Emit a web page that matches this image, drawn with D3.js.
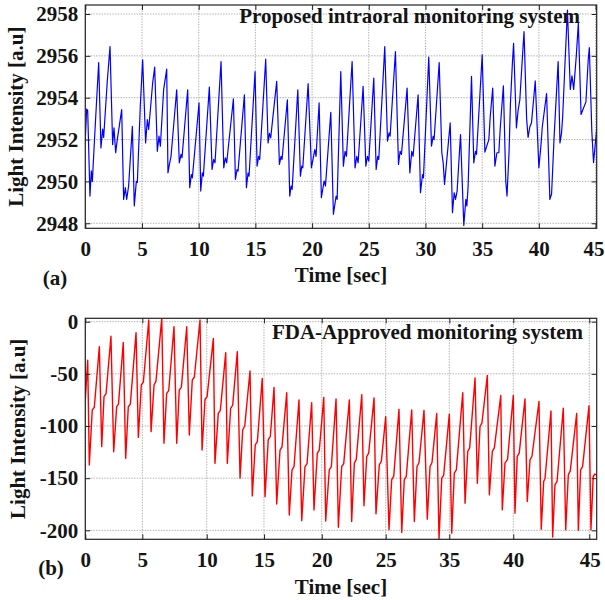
<!DOCTYPE html>
<html><head><meta charset="utf-8">
<script src="https://cdn.jsdelivr.net/npm/d3@7"></script>
<style>
body{margin:0;background:#fff}
text{font-family:"Liberation Serif","Times New Roman",serif;font-weight:bold;font-size:21px;fill:#141414}
</style>
</head><body><svg id="c" width="605" height="600"></svg>
<script>
// ---------- data ----------
const topTitle = "Proposed intraoral monitoring system";
const botTitle = "FDA-Approved monitoring system";
const xLabel = "Time [sec]";
const yLabel = "Light Intensity [a.u]";
const panelLetters = ["(a)", "(b)"];

const topXTicks = [0,5,10,15,20,25,30,35,40,45];
const topYTicks = [2948,2950,2952,2954,2956,2958];
const botXTicks = [0,5,10,15,20,25,35,40,45];
const botYTicks = [-200,-150,-100,-50,0];

const topTime = [0.00,0.12,0.21,0.41,0.53,0.62,0.85,1.18,1.38,1.53,1.62,1.94,2.18,2.41,2.53,2.68,2.82,3.21,3.38,3.53,3.65,3.82,4.15,4.32,4.50,4.59,4.85,5.06,5.32,5.47,5.59,5.94,6.12,6.35,6.50,6.62,6.91,7.18,7.29,7.41,7.56,8.06,8.29,8.44,8.53,9.03,9.21,9.35,9.44,10.03,10.18,10.32,10.41,10.94,11.18,11.32,11.44,11.97,12.21,12.35,12.47,13.06,13.24,13.38,13.47,14.03,14.21,14.35,14.44,14.97,15.15,15.29,15.38,15.91,16.12,16.24,16.35,16.88,17.12,17.26,17.35,17.82,18.03,18.15,18.24,18.74,18.97,19.09,19.18,19.65,19.94,20.24,20.35,20.62,20.82,21.06,21.18,21.65,21.88,22.12,22.21,22.53,22.76,22.91,23.03,23.53,23.79,23.94,24.06,24.50,24.74,24.88,25.00,25.44,25.65,25.79,25.88,26.41,26.65,26.79,26.88,27.35,27.62,27.76,27.88,28.38,28.62,28.79,28.91,29.35,29.56,29.74,29.82,30.29,30.53,30.68,30.76,31.21,31.44,31.56,31.68,32.18,32.38,32.53,32.65,32.79,33.09,33.38,33.56,33.65,33.76,34.06,34.26,34.41,34.50,35.00,35.24,35.41,35.59,35.71,35.93,36.12,36.30,36.47,36.60,36.87,37.08,37.19,37.37,37.49,37.66,37.77,38.02,38.17,38.32,38.50,38.69,38.92,39.05,39.20,39.35,39.68,40.00,40.18,40.30,40.68,40.97,41.12,41.35,41.70,41.86,42.00,42.10,42.30,42.52,42.77,42.92,43.07,43.30,43.48,43.72,43.93,44.15,44.35,44.45,44.67,44.82,45.10];
const topValue = [2952.0,2953.46,2953.4,2949.3,2950.5,2950.0,2952.4,2955.68,2951.6,2952.5,2952.1,2954.8,2956.44,2951.76,2952.56,2951.37,2952.0,2953.43,2949.14,2949.7,2949.14,2949.78,2952.63,2948.83,2950.0,2949.95,2953.6,2955.81,2951.84,2952.95,2952.48,2954.7,2955.46,2951.44,2952.16,2951.68,2954.4,2955.37,2950.41,2950.8,2951.2,2954.38,2950.89,2951.29,2951.13,2954.38,2949.7,2950.33,2950.17,2953.75,2949.54,2950.41,2950.25,2954.51,2950.57,2951.05,2950.89,2955.73,2950.65,2951.13,2950.89,2953.94,2950.1,2950.57,2950.49,2954.14,2949.7,2950.4,2950.25,2955.25,2950.73,2951.2,2951.05,2955.84,2951.84,2952.3,2952.08,2954.78,2950.81,2951.2,2951.05,2953.9,2949.3,2949.78,2949.62,2954.38,2950.25,2950.73,2950.65,2954.67,2950.65,2951.52,2951.2,2953.75,2949.22,2950.02,2949.78,2953.3,2948.43,2949.3,2949.14,2955.25,2950.73,2951.44,2951.2,2955.73,2950.65,2951.2,2950.89,2954.54,2950.73,2951.2,2950.97,2954.94,2950.57,2951.2,2951.05,2956.44,2951.92,2952.32,2952.16,2956.2,2950.81,2951.44,2951.29,2954.46,2950.41,2951.44,2951.2,2954.14,2949.46,2950.33,2950.17,2955.94,2951.68,2952.16,2952.0,2955.68,2951.37,2950.9,2949.86,2952.8,2948.51,2949.46,2949.14,2949.54,2952.24,2947.9,2949.14,2948.83,2949.78,2955.02,2950.89,2951.44,2951.29,2956.05,2951.4,2951.7,2952.0,2953.1,2954.46,2950.73,2951.37,2951.37,2952.6,2954.57,2950.02,2949.3,2951.4,2953.7,2955.6,2956.6,2952.56,2953.4,2953.9,2955.5,2957.16,2953.0,2952.1,2952.6,2952.8,2954.8,2950.65,2951.7,2952.6,2954.2,2949.14,2949.4,2952.2,2955.73,2951.84,2952.32,2953.1,2955.6,2958.19,2954.4,2955.05,2954.4,2956.0,2957.56,2953.2,2953.5,2953.8,2955.8,2956.4,2952.4,2950.9,2952.5];

const botTime = [0.00,0.21,0.35,0.61,0.79,1.23,1.44,1.64,1.82,2.25,2.49,2.75,2.91,3.33,3.54,3.77,3.95,4.45,4.65,4.91,5.08,5.50,5.68,5.91,6.06,6.51,6.68,6.89,7.05,7.46,7.67,7.87,8.03,8.45,8.65,8.88,9.04,9.48,9.64,9.87,10.03,10.58,10.72,11.01,11.19,11.66,11.80,12.09,12.27,12.67,12.91,13.14,13.32,13.78,13.98,14.24,14.42,14.85,15.09,15.37,15.55,15.87,16.10,16.39,16.56,16.97,17.19,17.43,17.60,18.03,18.27,18.55,18.73,19.13,19.33,19.62,19.79,20.16,20.31,20.59,20.75,21.12,21.30,21.56,21.72,22.16,22.34,22.55,22.70,23.13,23.30,23.52,23.67,24.09,24.24,24.50,24.66,25.00,25.52,25.94,26.26,27.09,27.52,27.92,28.24,29.09,29.50,29.92,30.24,31.02,31.54,31.97,32.28,33.02,33.38,33.81,34.12,35.00,35.19,35.39,35.55,36.05,36.23,36.44,36.59,37.01,37.19,37.40,37.55,37.97,38.13,38.36,38.52,39.02,39.14,39.35,39.55,40.00,40.11,40.26,40.39,40.77,40.92,41.10,41.23,41.69,41.84,42.00,42.09,42.48,42.59,42.74,42.88,43.29,43.45,43.62,43.75,44.17,44.28,44.43,44.56,44.98,45.11,45.26,45.37,45.49];
const botValue = [-75,-37,-137.4,-84.7,-82,-24,-119.8,-71.9,-69,-14,-124.6,-81.5,-79,-20,-131,-81.5,-79,-10.5,-110.9,-60.7,-58,1.6,-105.4,-60.7,-57,3.2,-116.6,-68.7,-66,-4.8,-116.6,-65.5,-63,-4.8,-108.6,-55.9,-53,1.6,-123,-74.4,-72,-16,-135.8,-87.9,-85,-29.7,-135.8,-83,-80,-28.8,-150,-103.8,-100,-47.3,-167,-118,-115,-54.3,-167.7,-113,-110,-63,-174.8,-123,-120,-68,-185.3,-142,-139,-75,-190.7,-139,-136,-77.6,-180.5,-126,-123,-72.5,-191,-142,-139,-74,-197,-138.8,-136,-75,-191.5,-135.6,-132,-70,-176.5,-129.2,-126,-73,-184.2,-137.2,-134,-91,-199.5,-151.6,-148,-84,-202,-151.6,-148,-84.5,-191.5,-138.8,-135,-85,-189.3,-138.8,-135,-88,-208.5,-150,-147,-88.6,-202.7,-145.2,-142,-68,-174,-124.4,-121,-54,-154.8,-100.5,-97,-51.6,-166,-124.4,-121,-70.8,-180.4,-135.6,-132,-70.8,-183.5,-129.2,-126,-74,-172.4,-132.4,-129,-76.5,-198.9,-153.2,-150,-85.6,-206.5,-156.4,-153,-83,-199.5,-146.8,-143,-88,-200,-142,-139,-80.7,-199.5,-148.4,-146,-147];

// ---------- layout ----------
const L = 85.3, R = 596.7;
const botTickFrac = [0,0.1115,0.2374,0.3494,0.4623,0.5874,0.7118,0.8369,0.9855,1];

const svg = d3.select("#c");
const panels = [
  {top:5, bottom:228.3,
   x: d3.scaleLinear().domain([0,45.1]).range([L,R]),
   y: d3.scaleLinear().domain([2947.76,2958.43]).range([228.3,5]),
   xTicks: topXTicks, yTicks: topYTicks, time: topTime, value: topValue,
   color:"#0000ff", width:1.2, title: topTitle, titleX:580, titleY:23,
   tickPad:13, xLabY:282, letter: panelLetters[0], letX:55, letY:285, yLabX:23},
  {top:318.3, bottom:539.3,
   x: d3.scaleLinear().domain([...botXTicks, 45.49]).range(botTickFrac.map(f => L + f*(R-L))),
   y: d3.scaleLinear().domain([-208.6,3.26]).range([539.3,318.3]),
   xTicks: botXTicks, yTicks: botYTicks, time: botTime, value: botValue,
   color:"#ff0000", width:1.4, title: botTitle, titleX:583, titleY:339,
   tickPad:12.5, xLabY:594, letter: panelLetters[1], letX:51, letY:575, yLabX:25}
];

panels.forEach((p, k) => {
  const g = svg.append("g");
  const h = p.bottom - p.top;
  // grid
  g.append("g").selectAll("line").data(p.xTicks).join("line")
    .attr("x1", d => p.x(d)).attr("x2", d => p.x(d))
    .attr("y1", p.top).attr("y2", p.bottom)
    .attr("stroke", "#b3b3b3").attr("stroke-width", 1).attr("stroke-dasharray", "1.5,1.2");
  g.append("g").selectAll("line").data(p.yTicks).join("line")
    .attr("y1", d => p.y(d)).attr("y2", d => p.y(d))
    .attr("x1", L).attr("x2", R)
    .attr("stroke", "#b3b3b3").attr("stroke-width", 1).attr("stroke-dasharray", "1.5,1.2");

  // signal
  const cid = "clip" + k;
  svg.append("clipPath").attr("id", cid).append("rect")
    .attr("x", L).attr("y", p.top).attr("width", R - L).attr("height", h);
  const line = d3.line().x((d, i) => p.x(p.time[i])).y((d, i) => p.y(p.value[i]));
  g.append("path").datum(p.value).attr("d", line)
    .attr("fill", "none").attr("stroke", p.color).attr("stroke-width", p.width)
    .attr("stroke-linejoin", "round").attr("clip-path", `url(#${cid})`);

  // axes (inward ticks)
  const fmt = d => String(d);
  const ax = g.append("g").attr("transform", `translate(0,${p.bottom})`)
    .call(d3.axisBottom(p.x).tickValues(p.xTicks).tickSize(-5).tickPadding(p.tickPad).tickFormat(fmt));
  const ay = g.append("g").attr("transform", `translate(${L},0)`)
    .call(d3.axisLeft(p.y).tickValues(p.yTicks).tickSize(-5).tickPadding(7).tickFormat(fmt));
  const at = g.append("g").attr("transform", `translate(0,${p.top})`)
    .call(d3.axisTop(p.x).tickValues(p.xTicks).tickSize(-5).tickFormat(""));
  const ar = g.append("g").attr("transform", `translate(${R},0)`)
    .call(d3.axisRight(p.y).tickValues(p.yTicks).tickSize(-5).tickFormat(""));
  [ax, ay, at, ar].forEach(a => { a.select(".domain").remove(); a.selectAll(".tick line").attr("stroke", "#222"); });
  // keep the last x label inside the page
  ax.selectAll(".tick text").filter((d, i, n) => i === n.length - 1)
    .attr("text-anchor", "end").attr("x", function() {
      const xx = p.x(p.xTicks[p.xTicks.length - 1]);
      return Math.min(604 - xx, 11);
    });

  // box
  g.append("rect").attr("x", L).attr("y", p.top).attr("width", R - L).attr("height", h)
    .attr("fill", "none").attr("stroke", "#222").attr("stroke-width", 1.2);

  // texts
  g.append("text").attr("x", p.titleX).attr("y", p.titleY).attr("text-anchor", "end").text(p.title);
  g.append("text").attr("x", (L + R) / 2).attr("y", p.xLabY).attr("text-anchor", "middle").text(xLabel);
  g.append("text").attr("x", p.letX).attr("y", p.letY).attr("text-anchor", "middle").text(p.letter);
  g.append("text").attr("transform", `translate(${p.yLabX},${(p.top + p.bottom) / 2}) rotate(-90)`)
    .attr("text-anchor", "middle").text(yLabel);
});
</script></body></html>
